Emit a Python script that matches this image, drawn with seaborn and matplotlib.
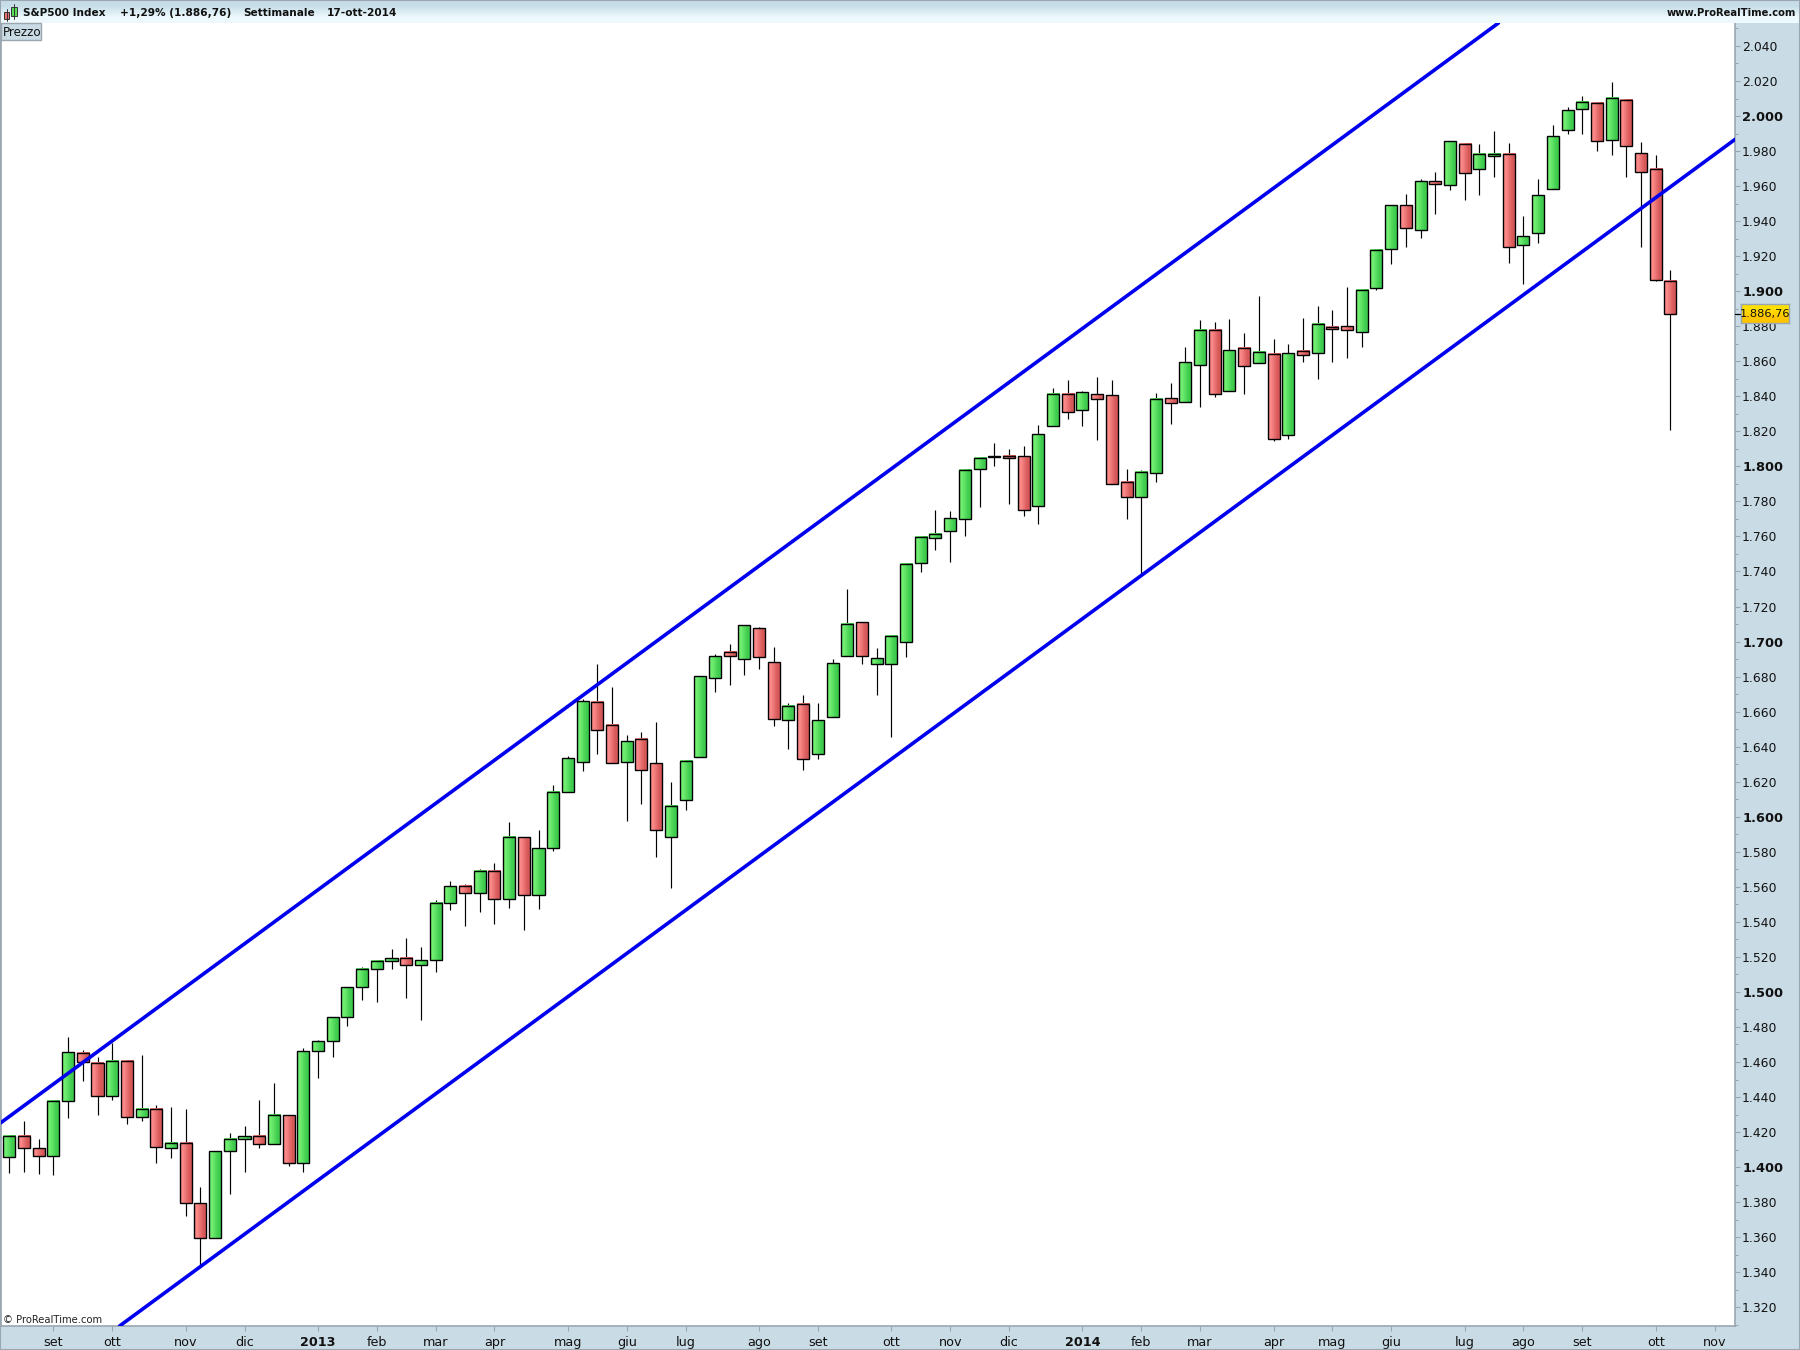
import numpy as np
import pandas as pd
import seaborn as sns
import matplotlib
matplotlib.use("Agg")
import matplotlib.pyplot as plt
from matplotlib.colors import LinearSegmentedColormap
from matplotlib.patches import Rectangle
from matplotlib.ticker import FixedLocator, NullFormatter

# ---------- data (weekly candles) ----------
opens = [1405.6,1417.6,1410.7,1406.2,1437.6,1465.0,1459.3,1440.4,1460.4,1428.4,
         1433.0,1410.7,1413.6,1379.3,1359.4,1409.0,1415.9,1417.6,1413.0,1429.6,
         1402.2,1466.1,1471.8,1485.5,1502.6,1512.9,1517.5,1519.2,1515.2,1518.0,
         1550.6,1560.3,1556.3,1568.9,1552.9,1588.3,1555.2,1582.0,1613.9,1631.4,
         1665.3,1652.1,1631.4,1644.1,1630.4,1588.2,1609.3,1633.9,1679.0,1693.8,
         1689.8,1707.5,1688.1,1655.0,1664.1,1635.6,1656.7,1691.5,1710.9,1687.0,
         1687.0,1699.5,1744.6,1758.9,1762.9,1769.7,1798.3,1805.6,1806.1,1805.7,
         1777.2,1822.8,1841.1,1832.0,1841.1,1840.5,1790.9,1782.3,1796.0,1838.8,
         1836.6,1857.7,1877.7,1842.8,1867.4,1858.8,1864.0,1817.7,1865.7,1864.5,
         1879.4,1879.9,1876.5,1901.6,1923.9,1949.0,1934.8,1962.7,1960.5,1983.9,
         1969.6,1977.0,1978.2,1926.2,1933.1,1958.2,1991.9,2003.8,2007.3,1986.1,
         2009.0,1978.7,1969.6,1905.6]
highs = [1418.3,1426.3,1416.1,1437.9,1474.3,1466.9,1462.7,1470.7,1460.4,1464.0,
         1435.5,1434.3,1433.2,1388.7,1409.0,1419.5,1423.5,1438.3,1448.0,1429.6,
         1467.8,1472.6,1485.5,1502.6,1514.0,1518.0,1524.3,1530.6,1525.5,1552.3,
         1563.1,1561.4,1570.0,1573.4,1596.8,1588.3,1592.3,1618.0,1634.4,1667.0,
         1687.2,1674.0,1646.6,1648.1,1653.9,1619.6,1631.6,1680.1,1692.7,1698.4,
         1709.2,1708.6,1696.7,1664.7,1669.3,1664.7,1689.8,1729.9,1710.9,1696.1,
         1703.0,1745.0,1759.5,1774.9,1774.3,1797.7,1804.6,1813.1,1809.7,1811.4,
         1823.4,1844.5,1849.1,1842.8,1850.8,1849.1,1798.3,1797.7,1841.7,1847.4,
         1867.9,1883.4,1882.2,1884.0,1875.9,1897.1,1872.5,1869.7,1884.5,1891.4,
         1889.1,1902.2,1901.1,1923.9,1949.0,1955.3,1963.9,1967.9,1985.6,1983.9,
         1983.9,1991.3,1984.4,1942.8,1963.9,1994.7,2005.0,2011.3,2007.3,2019.3,
         2009.0,1985.0,1977.6,1911.9]
lows = [1396.8,1397.4,1396.3,1395.7,1428.2,1449.4,1430.0,1438.5,1424.8,1426.5,
        1402.6,1405.4,1372.3,1343.6,1359.4,1384.9,1397.4,1410.9,1413.0,1400.8,
        1397.4,1451.1,1463.0,1480.7,1495.6,1494.5,1513.3,1496.7,1484.2,1511.6,
        1547.0,1537.8,1545.8,1539.0,1548.1,1535.6,1547.5,1580.7,1613.9,1626.3,
        1636.0,1630.4,1597.7,1607.4,1577.2,1559.5,1604.0,1633.9,1671.4,1675.4,
        1681.1,1684.5,1652.0,1638.8,1626.8,1633.1,1656.7,1691.5,1687.0,1669.6,
        1645.7,1691.2,1739.9,1752.4,1745.6,1760.4,1777.0,1800.4,1778.7,1771.8,
        1767.3,1822.8,1827.2,1823.2,1815.2,1789.7,1770.1,1738.5,1791.2,1824.4,
        1836.6,1834.1,1839.4,1842.8,1841.5,1858.8,1814.3,1815.4,1859.4,1850.1,
        1859.4,1862.1,1868.0,1900.6,1915.7,1925.4,1930.6,1944.3,1958.0,1952.3,
        1955.1,1965.4,1915.9,1904.3,1927.7,1958.2,1990.0,1990.0,1979.9,1978.0,
        1965.4,1925.4,1905.6,1820.5]
closes = [1417.6,1410.7,1406.2,1437.6,1465.5,1459.8,1440.4,1460.4,1428.4,1433.0,
          1411.3,1413.6,1379.3,1359.4,1409.0,1415.9,1417.6,1413.0,1429.6,1402.2,
          1466.1,1471.8,1485.5,1502.6,1512.9,1517.5,1519.2,1515.2,1518.0,1550.6,
          1560.3,1556.3,1568.9,1552.9,1588.3,1555.2,1582.0,1614.0,1633.3,1665.8,
          1649.3,1630.4,1643.0,1626.4,1592.2,1605.9,1631.6,1680.1,1691.5,1691.5,
          1709.2,1691.0,1655.6,1663.0,1632.7,1655.0,1687.5,1709.8,1691.5,1690.4,
          1703.0,1744.1,1759.5,1761.2,1770.3,1797.7,1804.6,1806.0,1804.6,1774.9,
          1818.3,1841.1,1830.8,1842.2,1838.3,1789.7,1782.3,1796.6,1838.3,1836.0,
          1859.4,1877.7,1841.1,1866.2,1857.1,1865.1,1815.4,1864.5,1863.4,1881.1,
          1878.2,1877.7,1900.5,1923.3,1949.0,1935.9,1962.7,1961.0,1985.6,1967.3,
          1978.2,1978.2,1925.0,1931.3,1954.7,1988.4,2003.3,2007.8,1985.6,2010.1,
          1982.7,1967.9,1906.2,1886.76]

# channel lines: (week position, price) of the two ends of each line
upper_weeks = [-0.6, 101.3]
upper_prices = [1425.2, 2053.1]
lower_weeks = [7.5, 117.4]
lower_prices = [1309.3, 1986.7]

month_positions = [3,7,12,16,21,25,29,33,38,42,46,51,55,60,64,68,73,77,81,86,90,94,99,103,107,112,116]
month_labels = ["set","ott","nov","dic","2013","feb","mar","apr","mag","giu","lug","ago","set","ott",
                "nov","dic","2014","feb","mar","apr","mag","giu","lug","ago","set","ott","nov"]
price_labelled = list(range(1320, 2041, 20))
price_minor = list(range(1310, 2051, 20))
last_price = 1886.76

# ---------- style ----------
W, H = 1800, 1350
STRIP = "#c9dbe5"
EDGE = "#9aa7b0"
sns.set_theme(style="white")
plt.rcParams["font.family"] = ["DejaVu Sans"]

df = pd.DataFrame({"week": np.arange(len(opens)), "open": opens, "high": highs, "low": lows, "close": closes})
df["up"] = df["close"] >= df["open"]

fig = plt.figure(figsize=(W / 100, H / 100), dpi=100, facecolor=STRIP)
ax = fig.add_axes([1 / W, (H - 1326) / H, 1734 / W, (1326 - 23) / H])
ax.set_facecolor("white")

green_cmap = LinearSegmentedColormap.from_list("g", ["#70ee70", "#3ecb4e"])
red_cmap = LinearSegmentedColormap.from_list("r", ["#fb8888", "#d65858"])
gradient = np.array([[0.0, 1.0]])
BODY = 0.82

ax.vlines(df["week"], df["low"], df["high"], color="black", lw=0.85, zorder=1)
for row in df.itertuples():
    bottom = min(row.open, row.close)
    top = max(row.open, row.close)
    cmap = green_cmap if row.up else red_cmap
    extent = (row.week - BODY / 2, row.week + BODY / 2, bottom, top)
    im = ax.imshow(gradient, cmap=cmap, extent=extent, aspect="auto", interpolation="bilinear",
                   origin="lower", zorder=2)
    rect = Rectangle((row.week - BODY / 2, bottom), BODY, top - bottom, fill=False,
                     edgecolor="black", lw=1.0, zorder=3)
    ax.add_patch(rect)

sns.lineplot(x=upper_weeks, y=upper_prices, color="#0000ee", lw=2.6, ax=ax, zorder=5, errorbar=None)
sns.lineplot(x=lower_weeks, y=lower_prices, color="#0000ee", lw=2.6, ax=ax, zorder=5, errorbar=None)

ax.set_xlim(-0.565, 117.39)
ax.set_ylim(1309.3, 2053.1)
for side in ("top", "left"):
    ax.spines[side].set_visible(False)
for side in ("right", "bottom"):
    ax.spines[side].set_color(EDGE)
    ax.spines[side].set_linewidth(1.2)
ax.spines["left"].set_visible(True)
ax.spines["left"].set_color(EDGE)

# ---------- axes ----------
ax.yaxis.tick_right()
ax.yaxis.set_major_locator(FixedLocator(price_labelled))
ax.yaxis.set_minor_locator(FixedLocator(price_minor))
ax.yaxis.set_minor_formatter(NullFormatter())
ax.set_yticklabels([f"{v:,}".replace(",", ".") for v in price_labelled])
ax.tick_params(axis="y", which="major", length=3.6, width=0.8, color=EDGE, pad=1.5,
               labelsize=8.9, labelcolor="#111111", right=True, left=False)
ax.tick_params(axis="y", which="minor", length=1.8, width=0.8, color=EDGE, right=True, left=False)
for value, label in zip(price_labelled, ax.get_yticklabels()):
    label.set_horizontalalignment("left")
    if value % 100 == 0:
        label.set_fontweight("bold")
        label.set_fontsize(9.4)

ax.set_xticks(month_positions)
ax.set_xticklabels(month_labels)
ax.tick_params(axis="x", length=3.4, width=0.8, color=EDGE, pad=3.5, labelsize=9.2,
               labelcolor="#111111", bottom=True)
for text, label in zip(month_labels, ax.get_xticklabels()):
    if text.isdigit():
        label.set_fontweight("bold")
        label.set_fontsize(9.2)

# ---------- header ----------
head = fig.add_axes([0, (H - 23) / H, 1, 23 / H])
head.imshow(np.array([[1.0], [0.0]]), aspect="auto", interpolation="bilinear",
            cmap=LinearSegmentedColormap.from_list("h", ["#c6dde8", "#eef9fd"]), extent=(0, W, 0, 23))
head.set_xlim(0, W)
head.set_ylim(23, 0)
head.axis("off")
head.add_patch(Rectangle((4, 12), 5, 7, facecolor="#f07070", edgecolor="#333333", lw=0.7))
head.add_patch(Rectangle((11, 7), 6, 9, facecolor="#55dd55", edgecolor="#333333", lw=0.7))
head.plot([6.5, 6.5], [9, 21], color="#333333", lw=0.7)
head.plot([14, 14], [4, 19], color="#333333", lw=0.7)
header_items = [(23, "S&P500 Index"), (120, "+1,29% (1.886,76)"), (243, "Settimanale"), (327, "17-ott-2014")]
for x, s in header_items:
    head.text(x, 12.5, s, fontsize=7.6, fontweight="bold", color="#111111", va="center", ha="left")
head.text(1796, 12.5, "www.ProRealTime.com", fontsize=7.2, fontweight="bold", color="#111111", va="center", ha="right")

# ---------- small boxes ----------
fig.patches.append(Rectangle((1 / W, (H - 40) / H), 40 / W, 17 / H, transform=fig.transFigure,
                             facecolor=STRIP, edgecolor=EDGE, lw=1, zorder=6))
fig.text(3 / W, (H - 32) / H, "Prezzo", fontsize=8.6, color="#111111", va="center", ha="left", zorder=7)
fig.text(3 / W, (H - 1320) / H, "© ProRealTime.com", fontsize=7.2, color="#222222", va="center", ha="left", zorder=7)

# last-price marker on the scale
ax.plot([1.0, 1.004], [last_price, last_price], transform=ax.get_yaxis_transform(), color="black",
        lw=0.9, clip_on=False, zorder=8)
tag = fig.add_axes([1741 / W, (H - 323) / H, 48 / W, 19 / H], zorder=9)
tag.imshow(np.array([[0.0], [1.0]]), aspect="auto", interpolation="bilinear",
           cmap=LinearSegmentedColormap.from_list("y", ["#ffe000", "#ffc400"]))
tag.set_xticks([])
tag.set_yticks([])
for spine in tag.spines.values():
    spine.set_color(EDGE)
    spine.set_linewidth(1)
tag.text(0.5, 0.47, "1.886,76", transform=tag.transAxes, fontsize=8.2, color="#111111", ha="center", va="center")

fig.add_artist(Rectangle((0, 0), 1, 1, transform=fig.transFigure, fill=False, edgecolor=EDGE, lw=1.5))
fig.savefig("out.png", dpi=100, facecolor=fig.get_facecolor())
